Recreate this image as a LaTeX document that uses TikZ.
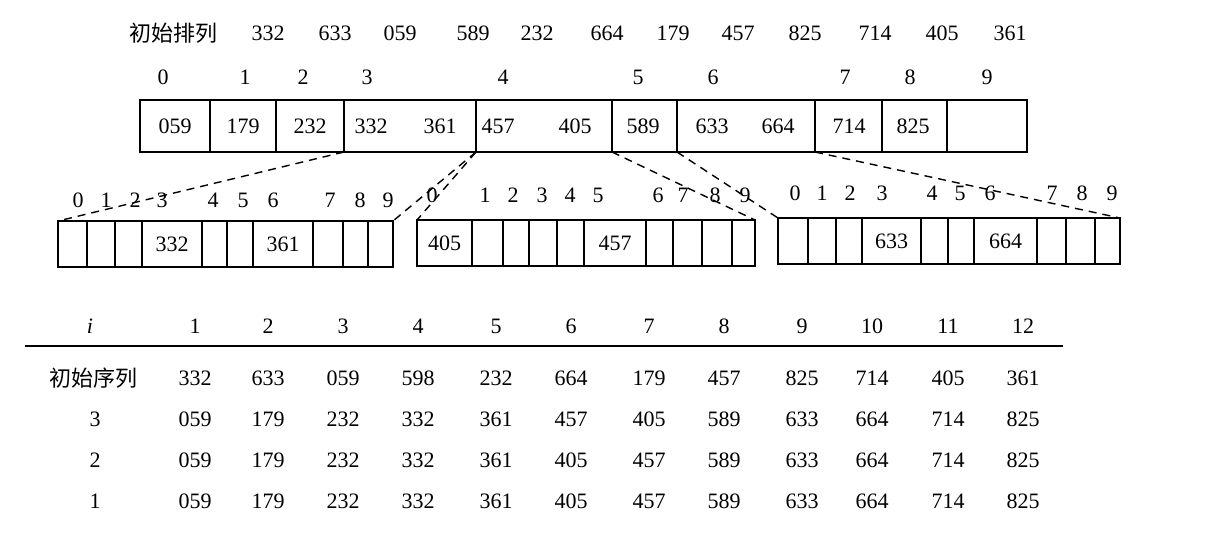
\documentclass[tikz,border=0pt]{standalone}
\usepackage{fontspec}
\setmainfont{Liberation Serif}
\newfontfamily\cjk{Noto Sans CJK SC}
\newcommand\fsz{\fontsize{11}{13}\selectfont}
\begin{document}
\begin{tikzpicture}[x=0.5pt,y=-0.5pt,
  cell/.style={draw, line width=0.9pt, inner sep=0pt, outer sep=0pt, rectangle},
  num/.style={inner sep=0pt, font=\fsz},
  dline/.style={line width=0.7pt, dash pattern=on 4pt off 3pt},
  rule/.style={line width=0.9pt}]
\useasboundingbox (0,0) rectangle (1216,536);
% top row
\node[num] (title) at (173,33) {\cjk 初始排列};
\foreach \x/\t [count=\i] in {268/332,335/633,400/059,473/589,537/232,607/664,673/179,738/457,805/825,875/714,942/405,1010/361}
  \node[num] (top\i) at (\x,33) {\t};
% main indices
\foreach \x/\t [count=\i] in {163/0,245/1,303/2,367/3,503/4,638/5,713/6,845/7,910/8,987/9}
  \node[num] (mi\i) at (\x,77) {\t};
% main box cells
\foreach \a/\b [count=\i] in {140/210,210/276,276/344,344/476,476/612,612/677,677/815,815/882,882/947,947/1027}
  \node[cell, minimum width={(\b-\a)*0.5pt}, minimum height=26pt] (m\i) at ({(\a+\b)/2},126) {};
\foreach \x/\t [count=\i] in {175/059,243/179,310/232,371/332,440/361,498/457,575/405,643/589,712/633,778/664,849/714,913/825}
  \node[num] (mt\i) at (\x,126) {\t};
% left sub-box
\foreach \a/\b [count=\i] in {58/87,87/115,115/142,142/202,202/227,227/253,253/313,313/343,343/368,368/393}
  \node[cell, minimum width={(\b-\a)*0.5pt}, minimum height=23pt] (L\i) at ({(\a+\b)/2},244) {};
\foreach \x/\t [count=\i] in {78/0,106/1,135/2,162/3,213/4,243/5,273/6,330/7,360/8,388/9}
  \node[num] (li\i) at (\x,200) {\t};
\node[num] (lt1) at (L4) {332};
\node[num] (lt2) at (L7) {361};
% middle sub-box
\foreach \a/\b [count=\i] in {417/472,472/503,503/529,529/557,557/584,584/646,646/673,673/702,702/732,732/755}
  \node[cell, minimum width={(\b-\a)*0.5pt}, minimum height=23pt] (C\i) at ({(\a+\b)/2},243) {};
\foreach \x/\t [count=\i] in {432/0,485/1,513/2,542/3,570/4,598/5,658/6,683/7,715/8,745/9}
  \node[num] (ci\i) at (\x,195) {\t};
\node[num] (ct1) at (C1) {405};
\node[num] (ct2) at (C6) {457};
% right sub-box
\foreach \a/\b [count=\i] in {778/808,808/836,836/862,862/921,921/948,948/974,974/1037,1037/1066,1066/1095,1095/1120}
  \node[cell, minimum width={(\b-\a)*0.5pt}, minimum height=23pt] (R\i) at ({(\a+\b)/2},241) {};
\foreach \x/\t [count=\i] in {795/0,822/1,850/2,882/3,932/4,960/5,990/6,1052/7,1082/8,1112/9}
  \node[num] (ri\i) at (\x,193) {\t};
\node[num] (rt1) at (R4) {633};
\node[num] (rt2) at (R7) {664};
% dashed connectors
\draw[dline] (m4.south west) -- (L1.north west);
\draw[dline] (m4.south east) -- (L10.north east);
\draw[dline] (m4.south east) -- (C1.north west);
\draw[dline] (m5.south east) -- (C10.north east);
\draw[dline] (m7.south west) -- (R1.north west);
\draw[dline] (m7.south east) -- (R10.north east);
% table
\def\colx{{195,268,343,418,496,571,649,724,802,872,948,1023}}
\node[num] (hi) at (90,326) {\textit{i}};
\foreach \v [count=\c] in {1,2,3,4,5,6,7,8,9,10,11,12}
  {\pgfmathsetmacro\xx{\colx[\c-1]}\node[num] (h\c) at (\xx,326) {\v};}
\coordinate (ruleA) at (25,346);
\coordinate (ruleB) at (1063,346);
\draw[rule] (ruleA) -- (ruleB);
\node[num] (lab1) at (93,378) {\cjk 初始序列};
\node[num] (lab2) at (95,419) {3};
\node[num] (lab3) at (95,460) {2};
\node[num] (lab4) at (95,501) {1};
\foreach \v [count=\c] in {332,633,059,598,232,664,179,457,825,714,405,361}
  {\pgfmathsetmacro\xx{\colx[\c-1]}\node[num] (ra\c) at (\xx,378) {\v};}
\foreach \v [count=\c] in {059,179,232,332,361,457,405,589,633,664,714,825}
  {\pgfmathsetmacro\xx{\colx[\c-1]}\node[num] (rb\c) at (\xx,419) {\v};}
\foreach \v [count=\c] in {059,179,232,332,361,405,457,589,633,664,714,825}
  {\pgfmathsetmacro\xx{\colx[\c-1]}\node[num] (rc\c) at (\xx,460) {\v};}
\foreach \v [count=\c] in {059,179,232,332,361,405,457,589,633,664,714,825}
  {\pgfmathsetmacro\xx{\colx[\c-1]}\node[num] (rd\c) at (\xx,501) {\v};}
\end{tikzpicture}
\end{document}
